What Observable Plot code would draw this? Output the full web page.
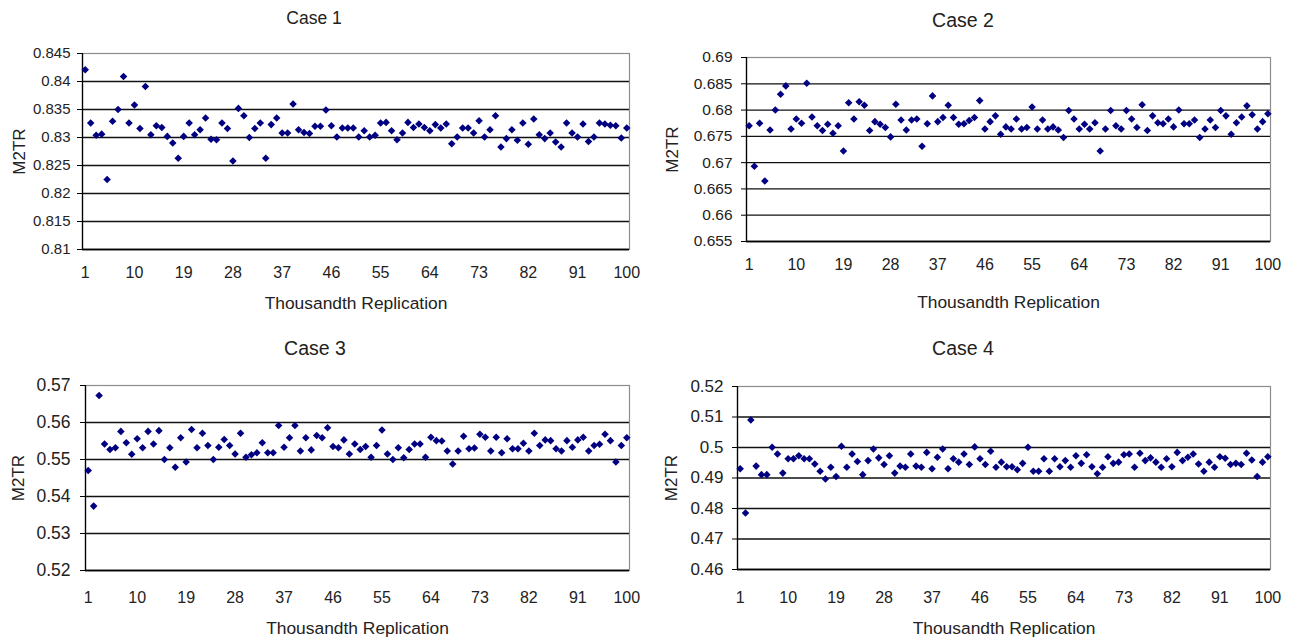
<!DOCTYPE html>
<html>
<head>
<meta charset="utf-8">
<script src="https://cdn.jsdelivr.net/npm/d3@7"></script>
<script src="https://cdn.jsdelivr.net/npm/@observablehq/plot@0.6"></script>
<style>
  html, body { margin: 0; padding: 0; background: #fff; }
  body { width: 1293px; height: 641px; position: relative; overflow: hidden;
         font-family: "Liberation Sans", Arial, sans-serif; color: #222; }
  .panel { position: absolute; }
  .title { position: absolute; transform: translate(-50%, -50%); white-space: nowrap; color: #222; }
</style>
</head>
<body>
<script>
// ---- data ----
const replication = Array.from({length: 100}, (_, i) => i + 1);
const xTickLabels = [1, 10, 19, 28, 37, 46, 55, 64, 73, 82, 91, 100];

const case1 = [
  0.8421, 0.8326, 0.8304, 0.8306, 0.8225, 0.8329, 0.8350, 0.8409, 0.8326, 0.8358,
  0.8316, 0.8391, 0.8305, 0.8321, 0.8318, 0.8302, 0.8290, 0.8263, 0.8302, 0.8326,
  0.8305, 0.8314, 0.8335, 0.8297, 0.8296, 0.8326, 0.8316, 0.8258, 0.8352, 0.8339,
  0.8300, 0.8316, 0.8326, 0.8263, 0.8323, 0.8335, 0.8308, 0.8308, 0.8360, 0.8314,
  0.8309, 0.8307, 0.8320, 0.8320, 0.8349, 0.8321, 0.8301, 0.8317, 0.8317, 0.8317,
  0.8301, 0.8312, 0.8301, 0.8304, 0.8326, 0.8327, 0.8312, 0.8296, 0.8308, 0.8327,
  0.8318, 0.8324, 0.8318, 0.8312, 0.8323, 0.8317, 0.8324, 0.8289, 0.8301, 0.8317,
  0.8317, 0.8308, 0.8330, 0.8301, 0.8314, 0.8339, 0.8283, 0.8298, 0.8314, 0.8295,
  0.8326, 0.8288, 0.8333, 0.8305, 0.8298, 0.8308, 0.8292, 0.8283, 0.8326, 0.8308,
  0.8301, 0.8324, 0.8293, 0.8301, 0.8326, 0.8324, 0.8322, 0.8321, 0.8299, 0.8317
];
const case2 = [
  0.6770, 0.6693, 0.6775, 0.6665, 0.6762, 0.6800, 0.6830, 0.6846, 0.6764, 0.6783,
  0.6775, 0.6851, 0.6787, 0.6770, 0.6761, 0.6773, 0.6756, 0.6770, 0.6722, 0.6814,
  0.6783, 0.6816, 0.6809, 0.6761, 0.6778, 0.6773, 0.6767, 0.6749, 0.6811, 0.6781,
  0.6762, 0.6781, 0.6783, 0.6731, 0.6774, 0.6827, 0.6778, 0.6786, 0.6809, 0.6786,
  0.6773, 0.6774, 0.6780, 0.6786, 0.6818, 0.6764, 0.6778, 0.6789, 0.6754, 0.6768,
  0.6764, 0.6783, 0.6764, 0.6767, 0.6806, 0.6764, 0.6781, 0.6764, 0.6768, 0.6762,
  0.6748, 0.6799, 0.6783, 0.6764, 0.6773, 0.6764, 0.6776, 0.6722, 0.6764, 0.6799,
  0.6770, 0.6764, 0.6799, 0.6783, 0.6767, 0.6810, 0.6761, 0.6789, 0.6776, 0.6774,
  0.6783, 0.6768, 0.6800, 0.6774, 0.6774, 0.6781, 0.6748, 0.6764, 0.6781, 0.6767,
  0.6799, 0.6789, 0.6754, 0.6776, 0.6787, 0.6808, 0.6791, 0.6764, 0.6778, 0.6793
];
const case3 = [
  0.5470, 0.5374, 0.5673, 0.5542, 0.5527, 0.5532, 0.5576, 0.5545, 0.5514, 0.5556,
  0.5532, 0.5576, 0.5542, 0.5578, 0.5500, 0.5532, 0.5479, 0.5559, 0.5493, 0.5581,
  0.5532, 0.5571, 0.5538, 0.5500, 0.5533, 0.5554, 0.5538, 0.5515, 0.5571, 0.5506,
  0.5513, 0.5518, 0.5545, 0.5518, 0.5518, 0.5592, 0.5533, 0.5559, 0.5592, 0.5523,
  0.5559, 0.5526, 0.5565, 0.5559, 0.5586, 0.5535, 0.5532, 0.5553, 0.5515, 0.5542,
  0.5527, 0.5535, 0.5506, 0.5538, 0.5580, 0.5515, 0.5500, 0.5532, 0.5505, 0.5527,
  0.5542, 0.5542, 0.5506, 0.5560, 0.5551, 0.5550, 0.5523, 0.5488, 0.5523, 0.5563,
  0.5529, 0.5531, 0.5568, 0.5560, 0.5523, 0.5560, 0.5518, 0.5556, 0.5529, 0.5529,
  0.5544, 0.5523, 0.5571, 0.5538, 0.5553, 0.5551, 0.5529, 0.5523, 0.5551, 0.5533,
  0.5553, 0.5560, 0.5523, 0.5538, 0.5541, 0.5568, 0.5551, 0.5493, 0.5538, 0.5559
];
const case4 = [
  0.4930, 0.4785, 0.5090, 0.4939, 0.4911, 0.4911, 0.5001, 0.4979, 0.4916, 0.4963,
  0.4963, 0.4973, 0.4963, 0.4963, 0.4946, 0.4922, 0.4897, 0.4935, 0.4905, 0.5004,
  0.4935, 0.4979, 0.4954, 0.4911, 0.4957, 0.4995, 0.4966, 0.4944, 0.4973, 0.4916,
  0.4939, 0.4935, 0.4979, 0.4939, 0.4935, 0.4984, 0.4930, 0.4968, 0.4995, 0.4930,
  0.4963, 0.4952, 0.4979, 0.4944, 0.5002, 0.4963, 0.4944, 0.4988, 0.4935, 0.4952,
  0.4937, 0.4937, 0.4927, 0.4948, 0.5001, 0.4922, 0.4922, 0.4963, 0.4922, 0.4963,
  0.4937, 0.4957, 0.4935, 0.4973, 0.4948, 0.4976, 0.4937, 0.4914, 0.4935, 0.4970,
  0.4948, 0.4952, 0.4976, 0.4979, 0.4935, 0.4981, 0.4957, 0.4966, 0.4952, 0.4935,
  0.4963, 0.4937, 0.4984, 0.4957, 0.4968, 0.4979, 0.4946, 0.4922, 0.4952, 0.4935,
  0.4970, 0.4965, 0.4944, 0.4948, 0.4944, 0.4981, 0.4959, 0.4905, 0.4952, 0.4970
];

const yTicks1 = [0.81, 0.815, 0.82, 0.825, 0.83, 0.835, 0.84, 0.845];
const yTicks2 = [0.655, 0.66, 0.665, 0.67, 0.675, 0.68, 0.685, 0.69];
const yTicks3 = [0.52, 0.53, 0.54, 0.55, 0.56, 0.57];
const yTicks4 = [0.46, 0.47, 0.48, 0.49, 0.5, 0.51, 0.52];

const titles = ["Case 1", "Case 2", "Case 3", "Case 4"];
const xLabel = "Thousandth Replication";
const yLabel = "M2TR";

// ---- layout ----
const FONT = "'Liberation Sans', Arial, sans-serif";
const panels = [
  {values: case1, yTicks: yTicks1, title: titles[0], left: 0, top: 0, width: 645, height: 320,
   mL: 82, mR: 16, mT: 53, mB: 71, yFont: 15, yPad: 7, xPad: 17, xLabOff: 59, yLabOff: 70,
   titleX: 314, titleY: 18, titleSize: 17.5},
  {values: case2, yTicks: yTicks2, title: titles[1], left: 645, top: 0, width: 648, height: 320,
   mL: 101, mR: 23, mT: 57, mB: 79, yFont: 15.5, yPad: 9, xPad: 17, xLabOff: 66, yLabOff: 81,
   titleX: 963, titleY: 20, titleSize: 19.5},
  {values: case3, yTicks: yTicks3, title: titles[2], left: 0, top: 320, width: 645, height: 321,
   mL: 85, mR: 16, mT: 65, mB: 71, yFont: 17.5, yPad: 10, xPad: 21, xLabOff: 63, yLabOff: 74,
   titleX: 315, titleY: 348, titleSize: 19.5},
  {values: case4, yTicks: yTicks4, title: titles[3], left: 645, top: 320, width: 648, height: 321,
   mL: 92, mR: 23, mT: 66, mB: 72, yFont: 17, yPad: 9, xPad: 22, xLabOff: 64, yLabOff: 73,
   titleX: 963, titleY: 348, titleSize: 19.5}
];

const fmt = d => String(+d.toFixed(3));

for (const p of panels) {
  const data = replication.map((r, i) => ({rep: r, value: p.values[i]}));
  const yMin = p.yTicks[0], yMax = p.yTicks[p.yTicks.length - 1];
  const chart = Plot.plot({
    width: p.width, height: p.height,
    marginLeft: p.mL, marginRight: p.mR, marginTop: p.mT, marginBottom: p.mB,
    style: {fontFamily: FONT, color: "#222", background: "transparent", overflow: "visible"},
    x: {domain: [0.5, 100.5]},
    y: {domain: [yMin, yMax]},
    marks: [
      Plot.ruleY(p.yTicks.slice(0, -1), {stroke: "#111", strokeWidth: 1.3}),
      Plot.frame({stroke: "#8c8c8c", strokeWidth: 1.2}),
      Plot.ruleX([0.5], {stroke: "#000", strokeWidth: 1.3}),
      Plot.ruleY([yMin], {stroke: "#000", strokeWidth: 1.3}),
      Plot.axisY({ticks: p.yTicks, tickFormat: fmt, tickSize: 5, tickPadding: p.yPad,
                  fontSize: p.yFont, stroke: "#000", label: null}),
      Plot.axisY({ticks: [], tickSize: 0, label: yLabel, labelAnchor: "center", labelArrow: "none",
                  labelOffset: p.yLabOff, fontSize: 17}),
      Plot.axisX({ticks: xTickLabels, tickFormat: d => String(d), tickSize: 0, tickPadding: p.xPad,
                  fontSize: 16, label: null}),
      Plot.axisX({ticks: [], tickSize: 0, label: xLabel, labelAnchor: "center", labelArrow: "none",
                  labelOffset: p.xLabOff, fontSize: 17.4}),
      Plot.dot(data, {x: "rep", y: "value", symbol: "diamond2", r: 3.4, fill: "#000080", stroke: "none"})
    ]
  });
  const wrap = document.createElement("div");
  wrap.className = "panel";
  wrap.style.left = p.left + "px";
  wrap.style.top = p.top + "px";
  wrap.appendChild(chart);
  document.body.appendChild(wrap);

  const t = document.createElement("div");
  t.className = "title";
  t.style.left = p.titleX + "px";
  t.style.top = p.titleY + "px";
  t.style.fontSize = p.titleSize + "px";
  t.textContent = p.title;
  document.body.appendChild(t);
}
</script>
</body>
</html>
